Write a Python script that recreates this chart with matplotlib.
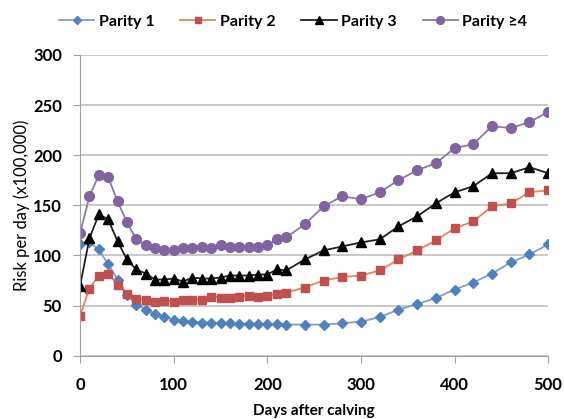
import matplotlib
matplotlib.use('Agg')
import matplotlib.pyplot as plt

plt.rcParams['font.family'] = ['Lato', 'DejaVu Sans']

# Days after calving (every 10 days up to 220, then every 20)
days = [0, 10, 20, 30, 40, 50, 60, 70, 80, 90, 100, 110, 120, 130, 140, 150, 160,
        170, 180, 190, 200, 210, 220, 240, 260, 280, 300, 320, 340, 360, 380, 400,
        420, 440, 460, 480, 500]

parity1 = [111, 113, 106, 91, 76, 61, 51, 46, 42, 39, 36, 35, 34, 33, 33, 32.5, 32.5,
           32, 32, 32, 31.5, 31.5, 31, 31, 31, 32.5, 34, 38.5, 46, 51.5, 57.5, 66,
           73, 82, 93, 101, 111]
parity2 = [40, 67, 80, 82, 71, 62, 57, 56, 54, 55, 54, 56, 56, 56, 59, 58, 57.5,
           59, 60, 59, 60, 62, 63, 68, 75, 78.5, 80, 85, 96, 105, 115, 127,
           134, 149, 152, 163, 165]
parity3 = [70, 117, 141, 136, 114, 96, 86, 82, 76, 76, 77, 74, 78, 77, 77, 78, 80,
           80, 80, 81, 81, 86, 85, 96, 105, 109, 113, 116, 129, 139, 152, 163,
           169, 182, 182, 188, 182]
parity4 = [122, 159, 180, 178, 154, 133, 116, 110, 107, 105, 105, 107, 107, 108, 107, 110, 108,
           108, 108, 108, 110, 116, 118, 131, 149, 159, 156, 163, 175, 185, 192, 207,
           211, 229, 227, 233, 243]

series = [
    ('Parity 1', parity1, 'D', '#4F81BD', '#7F9FC8', 5.5),
    ('Parity 2', parity2, 's', '#C0504D', '#E8825A', 5.5),
    ('Parity 3', parity3, '^', '#000000', '#202020', 7),
    ('Parity \u22654', parity4, 'o', '#8064A2', '#8A78A8', 7),
]

fig = plt.figure(figsize=(5.64, 4.19), dpi=100)
ax = fig.add_axes([0.142, 0.151, 0.830, 0.718])

for name, vals, mk, mc, lc, ms in series:
    ax.plot(days, vals, color=lc, lw=1.3, marker=mk, markersize=ms,
            markerfacecolor=mc, markeredgecolor=mc, label=name)

ax.set_xlim(0, 500)
ax.set_ylim(0, 300)
ax.set_xticks(range(0, 501, 100))
ax.set_yticks(range(0, 301, 50))
ax.grid(axis='y', color='#BFBFBF', lw=1.2)
ax.set_axisbelow(True)
for s in ['top', 'right']:
    ax.spines[s].set_visible(False)
for s in ['left', 'bottom']:
    ax.spines[s].set_color('#A0A0A0')
ax.tick_params(colors='#A0A0A0', labelcolor='black', labelsize=12, length=5, direction='out')
ax.tick_params(axis='x', pad=10)
ax.tick_params(axis='y', pad=8)
for lab in ax.get_xticklabels() + ax.get_yticklabels():
    lab.set_fontweight('bold')

ax.set_xlabel('Days after calving', fontsize=11, fontweight='bold', labelpad=8)
ax.set_ylabel('Risk per day (x100,000)', fontsize=12, labelpad=2)

leg = fig.legend(loc='upper center', bbox_to_anchor=(0.52, 1.0), ncol=4, frameon=False,
                 prop={'weight': 'bold', 'size': 11.5}, handlelength=2.2,
                 handletextpad=0.3, columnspacing=1.6, markerscale=0.8)

fig.savefig('out.png', dpi=100)
